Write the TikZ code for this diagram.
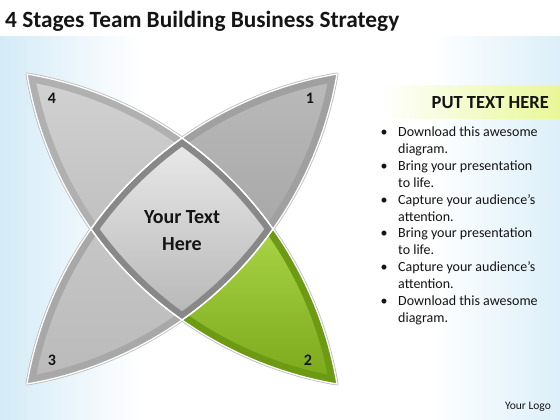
\documentclass[tikz,border=0pt]{standalone}
\usepackage{fontspec}
\setmainfont{Carlito}
\definecolor{bgblue}{RGB}{212,235,247}
\definecolor{bgblueR}{RGB}{220,239,249}
\definecolor{hdr}{RGB}{233,247,152}
\definecolor{pfourtop}{RGB}{210,210,210}
\definecolor{pfourbot}{RGB}{192,192,192}
\definecolor{pfourband}{RGB}{176,176,176}
\definecolor{ponetop}{RGB}{186,186,186}
\definecolor{ponebot}{RGB}{168,168,168}
\definecolor{poneband}{RGB}{160,160,160}
\definecolor{pthreetop}{RGB}{198,198,198}
\definecolor{pthreebot}{RGB}{186,186,186}
\definecolor{pthreeband}{RGB}{168,168,168}
\definecolor{ptwotop}{RGB}{168,212,70}
\definecolor{ptwobot}{RGB}{122,168,26}
\definecolor{ptwoband}{RGB}{108,154,18}
\definecolor{ctop}{RGB}{234,234,234}
\definecolor{cbot}{RGB}{182,182,182}
\definecolor{cband}{RGB}{136,136,136}
\definecolor{txt}{RGB}{20,20,20}
\def\RR{378.9}
\def\pfour{(TL) arc[start angle=80.35,end angle=54.78,radius=\RR] arc[start angle=125.22,end angle=144.78,radius=\RR] arc[start angle=215.22,end angle=189.65,radius=\RR] -- cycle}
\def\pfourout{(T) arc[start angle=54.78,end angle=80.35,radius=\RR] arc[start angle=189.65,end angle=215.22,radius=\RR]}
\def\pone{(TR) arc[start angle=99.65,end angle=125.22,radius=\RR] arc[start angle=54.78,end angle=35.22,radius=\RR] arc[start angle=-35.22,end angle=-9.65,radius=\RR] -- cycle}
\def\poneout{(T) arc[start angle=125.22,end angle=99.65,radius=\RR] arc[start angle=-9.65,end angle=-35.22,radius=\RR]}
\def\ptwo{(BR) arc[start angle=9.65,end angle=35.22,radius=\RR] arc[start angle=-35.22,end angle=-54.78,radius=\RR] arc[start angle=234.78,end angle=260.35,radius=\RR] -- cycle}
\def\ptwoout{(R) arc[start angle=35.22,end angle=9.65,radius=\RR] arc[start angle=260.35,end angle=234.78,radius=\RR]}
\def\pthree{(BL) arc[start angle=170.35,end angle=144.78,radius=\RR] arc[start angle=215.22,end angle=234.78,radius=\RR] arc[start angle=-54.78,end angle=-80.35,radius=\RR] -- cycle}
\def\pthreeout{(L) arc[start angle=144.78,end angle=170.35,radius=\RR] arc[start angle=-80.35,end angle=-54.78,radius=\RR]}
\def\pcenter{(T) arc[start angle=125.22,end angle=144.78,radius=\RR] arc[start angle=215.22,end angle=234.78,radius=\RR] arc[start angle=-54.78,end angle=-35.22,radius=\RR] arc[start angle=35.22,end angle=54.78,radius=\RR] -- cycle}
\begin{document}
\begin{tikzpicture}[x=1pt,y=1pt,
  numlbl/.style={font=\bfseries\fontsize{16}{19}\selectfont, text=txt, inner sep=0pt},
  btxt/.style={font=\fontsize{14}{17}\selectfont, text=txt, anchor=base west, inner sep=0pt},
  bdot/.style={font=\fontsize{14}{17}\selectfont, text=txt, anchor=base, inner sep=0pt},
  outline/.style={draw=white, line width=1.3pt, line join=round}]
\useasboundingbox (0,0) rectangle (560,420);
\fill[white] (0,0) rectangle (560,420);
\shade[left color=bgblue, right color=white] (0,0) rectangle (140,383);
\shade[left color=white, right color=bgblueR] (430,0) rectangle (560,383);
% header band
\shade[left color=white, right color=hdr] (380,301) rectangle (560,334);
\coordinate (TL) at (27,346);
\coordinate (TR) at (337,346);
\coordinate (BL) at (27,36);
\coordinate (BR) at (337,36);
\coordinate (T) at (182,282);
\coordinate (L) at (91,191);
\coordinate (B) at (182,100);
\coordinate (R) at (273,191);
% shadow outline
\draw[black!25, line width=3pt, line join=round] \pfour;
\draw[black!25, line width=3pt, line join=round] \pone;
\draw[black!25, line width=3pt, line join=round] \ptwo;
\draw[black!25, line width=3pt, line join=round] \pthree;
% petal 4
\shade[top color=pfourtop, bottom color=pfourbot] \pfour;
\begin{scope}\clip \pfour; \draw[pfourband, line width=15pt] \pfourout; \end{scope}
% petal 1
\shade[top color=ponetop, bottom color=ponebot] \pone;
\begin{scope}\clip \pone; \draw[poneband, line width=15pt] \poneout; \end{scope}
% petal 3
\shade[top color=pthreetop, bottom color=pthreebot] \pthree;
\begin{scope}\clip \pthree; \draw[pthreeband, line width=15pt] \pthreeout; \end{scope}
% petal 2
\shade[shading angle=-35, top color=ptwotop, bottom color=ptwobot] \ptwo;
\begin{scope}\clip \ptwo; \draw[ptwoband, line width=15pt] \ptwoout; \end{scope}
% center
\shade[top color=ctop, bottom color=cbot] \pcenter;
\begin{scope}\clip \pcenter; \draw[cband, line width=14pt, line join=round] \pcenter; \end{scope}
% outlines
\draw[outline] \pfour;
\draw[outline] \pone;
\draw[outline] \ptwo;
\draw[outline] \pthree;
\draw[outline] \pcenter;
% labels
\node[numlbl] (n4) at (52,322) {4};
\node[numlbl] (n1) at (310,322) {1};
\node[numlbl] (n3) at (52,60) {3};
\node[numlbl] (n2) at (308,60) {2};
\node[font=\bfseries\fontsize{20}{27}\selectfont, text=txt, align=center, inner sep=0pt] (ctext) at (182,189) {Your Text\\Here};
% title
\node[anchor=base west, font=\bfseries\fontsize{23.3}{27}\selectfont, text=txt, inner sep=0pt] (title) at (5,392) {4 Stages Team Building Business Strategy};
% header text
\node[anchor=east, font=\bfseries\fontsize{18.5}{22}\selectfont, text=txt, inner sep=0pt] (hdrtxt) at (549,317) {PUT TEXT HERE};
% bullets
\node[bdot] (d1) at (384,283.4) {\textbullet};
\node[btxt] (l1) at (398,283.4) {Download this awesome};
\node[btxt] (l2) at (398,266.5) {diagram.};
\node[bdot] (d2) at (384,249.6) {\textbullet};
\node[btxt] (l3) at (398,249.6) {Bring your presentation};
\node[btxt] (l4) at (398,232.7) {to life.};
\node[bdot] (d3) at (384,215.8) {\textbullet};
\node[btxt] (l5) at (398,215.8) {Capture your audience’s};
\node[btxt] (l6) at (398,198.9) {attention.};
\node[bdot] (d4) at (384,182.0) {\textbullet};
\node[btxt] (l7) at (398,182.0) {Bring your presentation};
\node[btxt] (l8) at (398,165.1) {to life.};
\node[bdot] (d5) at (384,148.2) {\textbullet};
\node[btxt] (l9) at (398,148.2) {Capture your audience’s};
\node[btxt] (l10) at (398,131.3) {attention.};
\node[bdot] (d6) at (384,114.4) {\textbullet};
\node[btxt] (l11) at (398,114.4) {Download this awesome};
\node[btxt] (l12) at (398,97.5) {diagram.};
% logo
\node[font=\fontsize{11.5}{14}\selectfont, text=txt, inner sep=0pt] (logo) at (528,13) {Your Logo};
\end{tikzpicture}
\end{document}
